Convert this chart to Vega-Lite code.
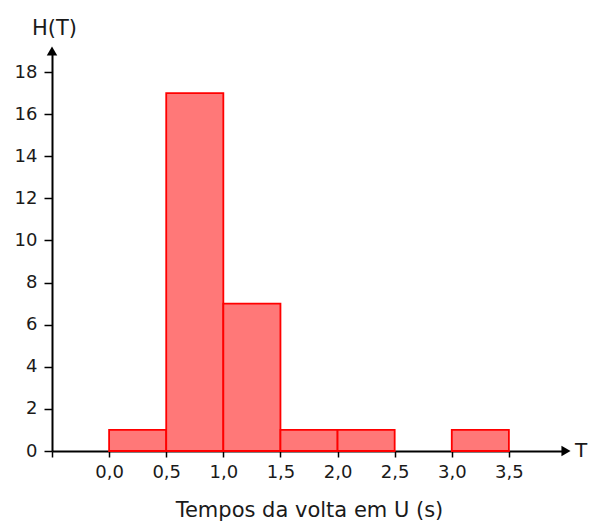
{
  "$schema": "https://vega.github.io/schema/vega-lite/v6.json",
  "width": 514,
  "height": 400,
  "autosize": "none",
  "padding": {"left": 52, "top": 51, "right": 23, "bottom": 70},
  "background": "white",
  "config": {"view": {"stroke": null}, "font": "DejaVu Sans"},
  "datasets": {
    "bins": [
      {"start": 0.0, "end": 0.5, "count": 1},
      {"start": 0.5, "end": 1.0, "count": 17},
      {"start": 1.0, "end": 1.5, "count": 7},
      {"start": 1.5, "end": 2.0, "count": 1},
      {"start": 2.0, "end": 2.5, "count": 1},
      {"start": 3.0, "end": 3.5, "count": 1}
    ],
    "arrows": [
      {"x": -0.5, "y": 19, "shape": "triangle-up"},
      {"x": 4.0, "y": 0, "shape": "triangle-right"}
    ],
    "labels": [
      {"x": 4.0, "y": 0, "text": "T"}
    ]
  },
  "layer": [
    {
      "data": {"name": "bins"},
      "mark": {"type": "bar", "fill": "#ff7878", "stroke": "#ff0000", "strokeWidth": 1.8},
      "encoding": {
        "x": {
          "field": "start",
          "type": "quantitative",
          "scale": {"domain": [-0.5, 4.0], "nice": false, "zero": false},
          "axis": {
            "title": "Tempos da volta em U (s)",
            "titleFontSize": 21,
            "titleFontWeight": "normal",
            "titleColor": "#1a1a1a",
            "titleY": 65,
            "titleBaseline": "alphabetic",
            "values": [-0.5, -0.25, 0, 0.25, 0.5, 0.75, 1, 1.25, 1.5, 1.75, 2, 2.25, 2.5, 2.75, 3, 3.25, 3.5, 3.75],
            "labelExpr": "datum.value >= 0 && round(datum.value * 2) == datum.value * 2 ? replace(format(datum.value, '.1f'), '.', ',') : ''",
            "labelFontSize": 18,
            "labelColor": "#1a1a1a",
            "labelPadding": 6,
            "labelFlush": false,
            "labelOverlap": false,
            "tickSize": 6,
            "tickColor": "#000000",
            "tickWidth": 1.5,
            "domainColor": "#000000",
            "domainWidth": 2,
            "grid": false
          }
        },
        "x2": {"field": "end"},
        "y": {
          "field": "count",
          "type": "quantitative",
          "scale": {"domain": [0, 19], "nice": false},
          "axis": {
            "title": "H(T)",
            "titleAngle": 0,
            "titleFontSize": 21,
            "titleFontWeight": "normal",
            "titleColor": "#1a1a1a",
            "titleX": 2,
            "titleY": -17,
            "titleAlign": "center",
            "titleBaseline": "alphabetic",
            "values": [0, 1, 2, 3, 4, 5, 6, 7, 8, 9, 10, 11, 12, 13, 14, 15, 16, 17, 18],
            "labelExpr": "datum.value % 2 == 0 ? datum.label : ''",
            "labelFontSize": 18,
            "labelColor": "#1a1a1a",
            "labelPadding": 7,
            "labelFlush": false,
            "labelOverlap": false,
            "tickSize": {"condition": {"test": "datum.value % 2 == 0", "value": 8}, "value": 5},
            "tickColor": "#000000",
            "tickWidth": 1.5,
            "domainColor": "#000000",
            "domainWidth": 2,
            "grid": false
          }
        },
        "y2": {"datum": 0}
      }
    },
    {
      "data": {"name": "arrows"},
      "mark": {"type": "point", "filled": true, "color": "#000000", "size": 110, "opacity": 1},
      "encoding": {
        "x": {"field": "x", "type": "quantitative"},
        "y": {"field": "y", "type": "quantitative"},
        "shape": {"field": "shape", "type": "nominal", "scale": null}
      }
    },
    {
      "data": {"name": "labels"},
      "mark": {"type": "text", "align": "left", "baseline": "middle", "dx": 9, "fontSize": 20, "color": "#1a1a1a"},
      "encoding": {
        "x": {"field": "x", "type": "quantitative"},
        "y": {"field": "y", "type": "quantitative"},
        "text": {"field": "text"}
      }
    }
  ]
}
